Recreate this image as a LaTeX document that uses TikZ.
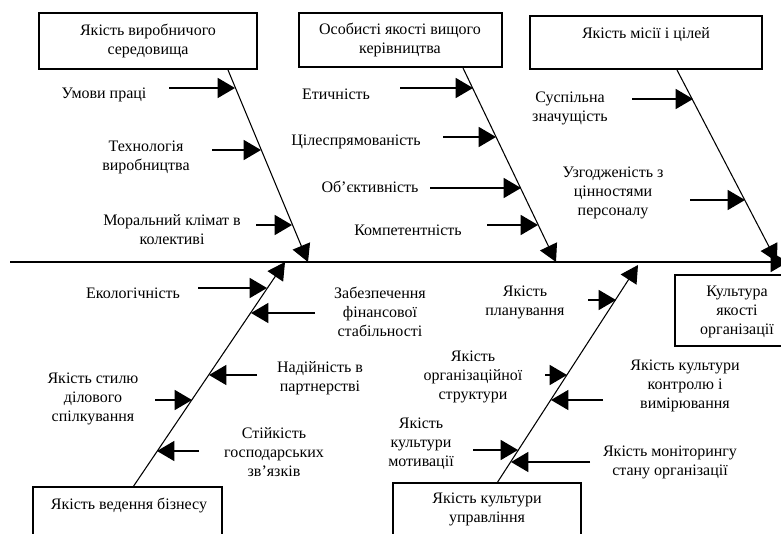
\documentclass[tikz,border=0pt]{standalone}
\usepackage{fontspec}
\setmainfont{Liberation Serif}
\usetikzlibrary{arrows.meta,fit}

\tikzset{
  box/.style={draw, line width=1pt, inner sep=0pt},
  lbl/.style={align=center, inner sep=0pt},
  bone/.style={line width=0.8pt, -{Triangle[length=13pt,width=14pt]}},
  cause/.style={line width=1.1pt, -{Triangle[length=13pt,width=15pt]}},
  spine/.style={line width=1.2pt, -{Triangle[length=13pt,width=15pt]}}
}

\begin{document}
\begin{tikzpicture}[x=0.75pt,y=-0.75pt,every node/.style={font=\fontsize{12}{14.25}\selectfont}]
\useasboundingbox (0,0) rectangle (781,534);
\clip (0,0) rectangle (781,534);

% boxes
\node[box, fit={(39,13) (257,69)}]    (envbox) {};
\node[box, fit={(299,13) (502,67)}]   (mgrbox) {};
\node[box, fit={(530,16) (762,69)}]   (misbox) {};
\node[box, fit={(33,487) (222,560)}]  (bizbox) {};
\node[box, fit={(393,483) (581,560)}] (mngbox) {};
\node[box, fit={(675,275) (800,346)}] (resbox) {};
\node[lbl] (envtxt) at (148,41)  {Якість виробничого\\середовища};
\node[lbl] (mgrtxt) at (400,40)  {Особисті якості вищого\\керівництва};
\node[lbl] (mistxt) at (646,35)  {Якість місії і цілей};
\node[lbl] (biztxt) at (129,505) {Якість ведення бізнесу};
\node[lbl] (mngtxt) at (487,509) {Якість культури\\управління};
\node[lbl] (restxt) at (737,312) {Культура\\якості\\організації};

% spine
\coordinate (tail) at (10,262);
\coordinate (head) at (788,262);
\draw[spine] (tail) -- (head);

% bones
\coordinate (t1) at (228,70);  \coordinate (s1) at (308,262);
\coordinate (t2) at (463,68);  \coordinate (s2) at (556,262);
\coordinate (t3) at (677,70);  \coordinate (s3) at (777,262);
\coordinate (t4) at (133,487); \coordinate (s4) at (285,262);
\coordinate (t5) at (497,483); \coordinate (s5) at (638,265);
\draw[bone] (t1) -- (s1);
\draw[bone] (t2) -- (s2);
\draw[bone] (t3) -- (s3);
\draw[bone] (t4) -- (s4);
\draw[bone] (t5) -- (s5);

% labels
\node[lbl] (umovy)  at (104,95)  {Умови праці};
\node[lbl] (tekhn)  at (146,157) {Технологія\\виробництва};
\node[lbl] (moral)  at (172,230) {Моральний клімат в\\колективі};
\node[lbl] (etych)  at (336,94)  {Етичність};
\node[lbl] (tsil)   at (356,142) {Цілеспрямованість};
\node[lbl] (obj)    at (370,187) {Об’єктивність};
\node[lbl] (komp)   at (408,230) {Компетентність};
\node[lbl] (susp)   at (570,108) {Суспільна\\значущість};
\node[lbl] (uzgod)  at (613,193) {Узгодженість з\\цінностями\\персоналу};
\node[lbl] (ekol)   at (133,293) {Екологічність};
\node[lbl] (fin)    at (380,312) {Забезпечення\\фінансової\\стабільності};
\node[lbl] (nad)    at (320,378) {Надійність в\\партнерстві};
\node[lbl] (styl)   at (93,399)  {Якість стилю\\ділового\\спілкування};
\node[lbl] (stiik)  at (274,452) {Стійкість\\господарських\\зв’язків};
\node[lbl] (plan)   at (525,302) {Якість\\планування};
\node[lbl] (orgstr) at (473,377) {Якість\\організаційної\\структури};
\node[lbl] (kontr)  at (685,386) {Якість культури\\контролю і\\вимірювання};
\node[lbl] (motyv)  at (421,444) {Якість\\культури\\мотивації};
\node[lbl] (monit)  at (670,462) {Якість моніторингу\\стану організації};

% cause arrows
\coordinate (c1a) at (169,88);  \coordinate (c1b) at (235,88);
\coordinate (c2a) at (212,150); \coordinate (c2b) at (261,150);
\coordinate (c3a) at (256,225); \coordinate (c3b) at (292,225);
\coordinate (c4a) at (400,88);  \coordinate (c4b) at (473,88);
\coordinate (c5a) at (443,137); \coordinate (c5b) at (496,137);
\coordinate (c6a) at (430,188); \coordinate (c6b) at (521,188);
\coordinate (c7a) at (487,225); \coordinate (c7b) at (538,225);
\coordinate (c8a) at (632,99);  \coordinate (c8b) at (693,99);
\coordinate (c9a) at (690,200); \coordinate (c9b) at (745,200);
\coordinate (c10a) at (198,288); \coordinate (c10b) at (267,288);
\coordinate (c11a) at (315,313); \coordinate (c11b) at (251,313);
\coordinate (c12a) at (257,375); \coordinate (c12b) at (209,375);
\coordinate (c13a) at (155,400); \coordinate (c13b) at (192,400);
\coordinate (c14a) at (199,451); \coordinate (c14b) at (157,451);
\coordinate (c15a) at (588,300); \coordinate (c15b) at (616,300);
\coordinate (c16a) at (545,375); \coordinate (c16b) at (567,375);
\coordinate (c17a) at (603,400); \coordinate (c17b) at (551,400);
\coordinate (c18a) at (473,450); \coordinate (c18b) at (518,450);
\coordinate (c19a) at (590,462); \coordinate (c19b) at (511,462);
\draw[cause] (c1a) -- (c1b);
\draw[cause] (c2a) -- (c2b);
\draw[cause] (c3a) -- (c3b);
\draw[cause] (c4a) -- (c4b);
\draw[cause] (c5a) -- (c5b);
\draw[cause] (c6a) -- (c6b);
\draw[cause] (c7a) -- (c7b);
\draw[cause] (c8a) -- (c8b);
\draw[cause] (c9a) -- (c9b);
\draw[cause] (c10a) -- (c10b);
\draw[cause] (c11a) -- (c11b);
\draw[cause] (c12a) -- (c12b);
\draw[cause] (c13a) -- (c13b);
\draw[cause] (c14a) -- (c14b);
\draw[cause] (c15a) -- (c15b);
\draw[cause] (c16a) -- (c16b);
\draw[cause] (c17a) -- (c17b);
\draw[cause] (c18a) -- (c18b);
\draw[cause] (c19a) -- (c19b);

\end{tikzpicture}
\end{document}
